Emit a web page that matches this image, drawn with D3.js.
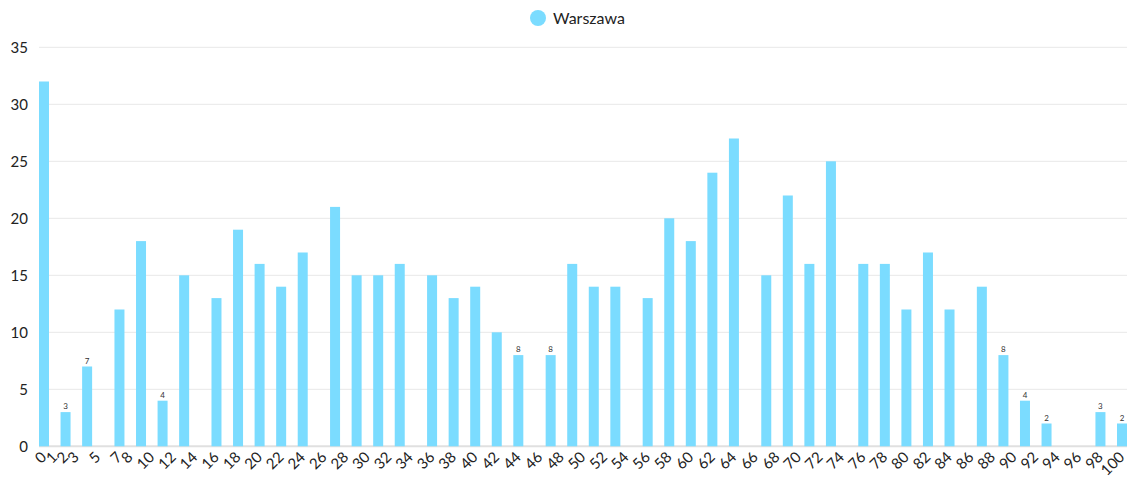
<!DOCTYPE html>
<html>
<head>
<meta charset="utf-8">
<script src="https://cdn.jsdelivr.net/npm/d3@7"></script>
<style>
  body { margin: 0; background: #fff; }
  svg text { font-family: Lato, "Open Sans", sans-serif; }
</style>
</head>
<body>
<div id="chart"></div>
<script>
var svgWidth = 1127;
var svgHeight = 482;

// x positions of the bars (numeric axis 0..100) and their counts
var xValues = [0, 2, 4, 7, 9, 11, 13, 16, 18, 20, 22, 24, 27, 29, 31, 33, 36, 38, 40, 42, 44,
  47, 49, 51, 53, 56, 58, 60, 62, 64, 67, 69, 71, 73, 76, 78, 80, 82, 84, 87, 89, 91, 93, 98, 100];
var counts = [32, 3, 7, 12, 18, 4, 15, 13, 19, 16, 14, 17, 21, 15, 15, 16, 15, 13, 14, 10, 8,
  8, 16, 14, 14, 13, 20, 18, 24, 27, 15, 22, 16, 25, 16, 16, 12, 17, 12, 14, 8, 4, 2, 3, 2];
var xTicks = [0, 1, 2, 3, 5, 7, 8].concat(d3.range(10, 101, 2));
var yTicks = [0, 5, 10, 15, 20, 25, 30, 35];
var seriesName = "Warszawa";

var barColor = "#7bdcff";

var data = xValues.map((x, i) => ({ x: x, v: counts[i] }));

var svg = d3.select("#chart")
  .append("svg")
  .attr("width", svgWidth)
  .attr("height", svgHeight);

var xScale = d3.scaleLinear().domain([0, 100]).range([44, 1122]);
var yScale = d3.scaleLinear().domain([0, 35]).range([446.3, 47.3]);

// gridlines
svg.append("g")
  .selectAll("line")
  .data(yTicks)
  .enter()
  .append("line")
  .attr("x1", 39)
  .attr("x2", svgWidth)
  .attr("y1", d => yScale(d))
  .attr("y2", d => yScale(d))
  .attr("stroke", d => d === 0 ? "#e0e0e0" : "#e8e8e8")
  .attr("stroke-width", d => d === 0 ? 2 : 1);

// y axis labels
var leftAxis = d3.axisLeft(yScale).tickValues(yTicks).tickSize(0).tickPadding(0);
var yAxisG = svg.append("g")
  .attr("transform", "translate(28, 0)")
  .call(leftAxis);
yAxisG.select(".domain").remove();
yAxisG.selectAll("text")
  .attr("font-size", 15)
  .attr("fill", "#222");

// bars
var barWidth = 10;
svg.append("g")
  .selectAll("rect")
  .data(data)
  .enter()
  .append("rect")
  .attr("x", d => xScale(d.x) - barWidth / 2)
  .attr("y", d => yScale(d.v))
  .attr("width", barWidth)
  .attr("height", d => yScale(0) - yScale(d.v))
  .attr("fill", barColor);

// small value labels above the short bars
svg.append("g")
  .selectAll("text")
  .data(data.filter(d => d.v <= 8))
  .enter()
  .append("text")
  .attr("x", d => xScale(d.x))
  .attr("y", d => yScale(d.v) - 3)
  .attr("text-anchor", "middle")
  .attr("font-size", 8)
  .attr("fill", "#333")
  .text(d => d.v);

// x axis labels (rotated)
var bottomAxis = d3.axisBottom(xScale).tickValues(xTicks).tickSize(0).tickPadding(0);
var xAxisG = svg.append("g")
  .attr("transform", "translate(0, 446)")
  .call(bottomAxis);
xAxisG.select(".domain").remove();
xAxisG.selectAll("text")
  .attr("font-size", 15)
  .attr("fill", "#222")
  .attr("dy", null)
  .attr("y", 0)
  .attr("text-anchor", "end")
  .attr("transform", "translate(3, 12) rotate(-45)");

// legend
var legend = svg.append("g").attr("transform", "translate(538, 18)");
legend.append("circle").attr("r", 8).attr("fill", barColor);
legend.append("text")
  .attr("x", 15)
  .attr("y", 5.5)
  .attr("font-size", 16)
  .attr("fill", "#222")
  .text(seriesName);
</script>
</body>
</html>
